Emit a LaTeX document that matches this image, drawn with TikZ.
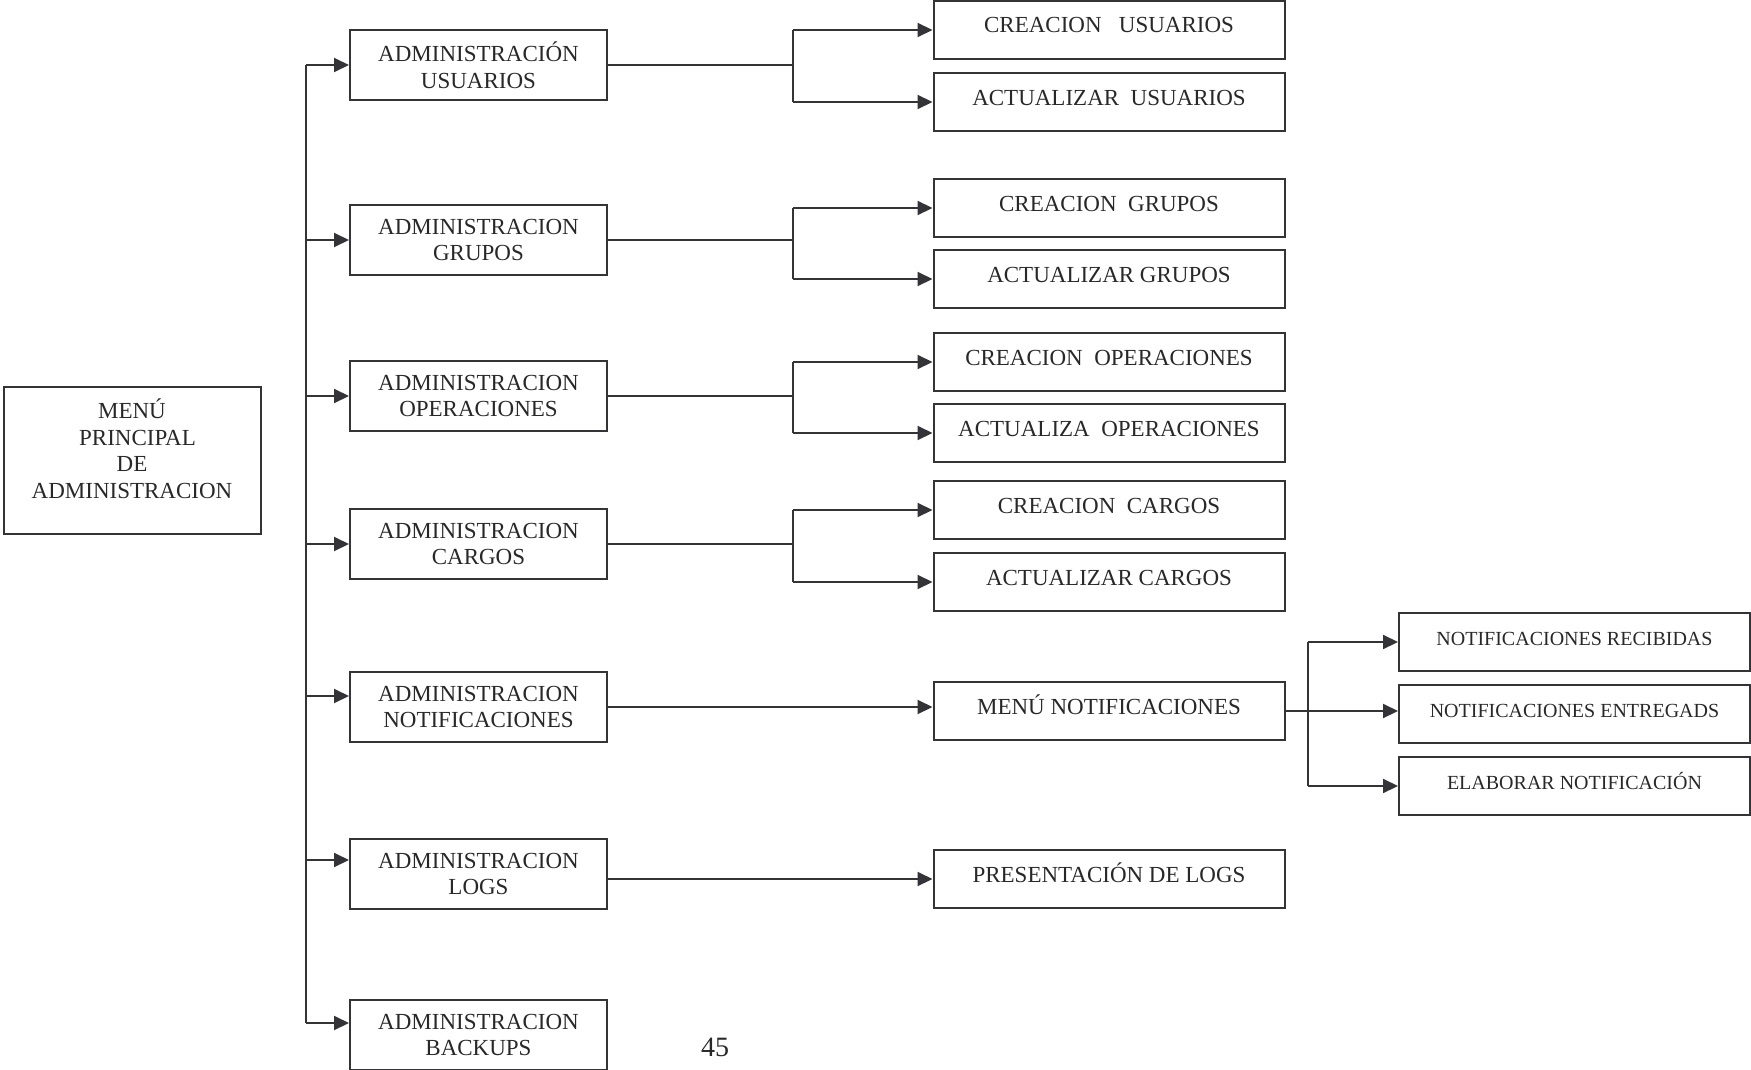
\documentclass[tikz,border=0pt]{standalone}
\usepackage{fontspec}
\setmainfont{Liberation Serif}
\definecolor{mpLinea}{RGB}{52, 52, 56}
\definecolor{mpTexto}{RGB}{40, 40, 40}
\usetikzlibrary{
  arrows.meta,
  positioning,
  calc
}
\tikzset{
  % Cajas generales
  basebox/.style={
    rectangle,
    draw=mpLinea,
    line width=1pt,
    text=mpTexto,
    align=center,
    inner sep=2pt
  },
  menubox/.style={basebox, minimum width=128.5pt, minimum height=73.5pt,
    font=\fontsize{11.5}{13.4}\selectfont},
  adminbox/.style={basebox, minimum width=128.5pt, minimum height=35pt,
    font=\fontsize{11.5}{13.4}\selectfont},
  subbox/.style={basebox, minimum width=175.5pt, minimum height=29pt,
    font=\fontsize{11.5}{13.4}\selectfont, text height=8pt, text depth=5pt},
  notibox/.style={subbox, font=\fontsize{10}{12}\selectfont},
  % Flechas y lineas
  arrow/.style={-{Triangle[length=7.5pt, width=7pt]}, line width=1pt, color=mpLinea},
  linea/.style={line width=1pt, color=mpLinea},
}

\begin{document}
\begin{tikzpicture}[x=0.5pt, y=-0.5pt]
  \useasboundingbox (0,0) rectangle (1751,1070);

  % Menu principal
  \node[menubox] (menu) at (132,460)
    {MENÚ\\\hspace*{5.5pt}PRINCIPAL\\DE\\ADMINISTRACION\\[-2pt]\mbox{}};

  % Modulos de administracion
  \node[adminbox] (usu)  at (478.5,65)   {ADMINISTRACIÓN\\USUARIOS};
  \node[adminbox] (gru)  at (478.5,240)  {ADMINISTRACION\\GRUPOS};
  \node[adminbox] (ope)  at (478.5,396)  {ADMINISTRACION\\OPERACIONES};
  \node[adminbox] (car)  at (478.5,544)  {ADMINISTRACION\\CARGOS};
  \node[adminbox] (noti) at (478.5,707)  {ADMINISTRACION\\NOTIFICACIONES};
  \node[adminbox] (log)  at (478.5,874)  {ADMINISTRACION\\LOGS};
  \node[adminbox] (bak)  at (478.5,1035) {ADMINISTRACION\\BACKUPS};

  % Opciones
  \node[subbox] (cusu) at (1109,30)  {CREACION~~~USUARIOS};
  \node[subbox] (ausu) at (1109,102) {ACTUALIZAR~~USUARIOS};
  \node[subbox] (cgru) at (1109,208) {CREACION~~GRUPOS};
  \node[subbox] (agru) at (1109,279) {ACTUALIZAR GRUPOS};
  \node[subbox] (cope) at (1109,362) {CREACION~~OPERACIONES};
  \node[subbox] (aope) at (1109,433) {ACTUALIZA~~OPERACIONES};
  \node[subbox] (ccar) at (1109,510) {CREACION~~CARGOS};
  \node[subbox] (acar) at (1109,582) {ACTUALIZAR CARGOS};
  \node[subbox] (mnot) at (1109,711) {MENÚ NOTIFICACIONES};
  \node[subbox] (plog) at (1109,879) {PRESENTACIÓN DE LOGS};

  % Notificaciones
  \node[notibox] (nrec) at (1574.5,642) {NOTIFICACIONES RECIBIDAS};
  \node[notibox] (nent) at (1574.5,714) {NOTIFICACIONES ENTREGADS};
  \node[notibox] (nela) at (1574.5,786) {ELABORAR NOTIFICACIÓN};

  \node[font=\fontsize{14}{16}\selectfont, text=mpTexto] (pag) at (715,1047) {45};

  % Tronco principal
  \coordinate (tronco) at (306,0);
  \coordinate (notin) at ([yshift=5.5pt]noti.west);
  \coordinate (login) at ([yshift=7pt]log.west);
  \coordinate (bakin) at ([yshift=6pt]bak.west);
  \draw[linea] (usu.west -| tronco) -- (bakin -| tronco);
  \draw[arrow] (usu.west -| tronco) -- (usu.west);
  \draw[arrow] (gru.west -| tronco) -- (gru.west);
  \draw[arrow] (ope.west -| tronco) -- (ope.west);
  \draw[arrow] (car.west -| tronco) -- (car.west);
  \draw[arrow] (notin -| tronco) -- (notin);
  \draw[arrow] (login -| tronco) -- (login);
  \draw[arrow] (bakin -| tronco) -- (bakin);

  % Ramas de opciones
  \coordinate (rama) at (793,0);
  \draw[linea] (usu.east) -- (usu.east -| rama);
  \draw[linea] (cusu.west -| rama) -- (ausu.west -| rama);
  \draw[arrow] (cusu.west -| rama) -- (cusu.west);
  \draw[arrow] (ausu.west -| rama) -- (ausu.west);

  \draw[linea] (gru.east) -- (gru.east -| rama);
  \draw[linea] (cgru.west -| rama) -- (agru.west -| rama);
  \draw[arrow] (cgru.west -| rama) -- (cgru.west);
  \draw[arrow] (agru.west -| rama) -- (agru.west);

  \draw[linea] (ope.east) -- (ope.east -| rama);
  \draw[linea] (cope.west -| rama) -- (aope.west -| rama);
  \draw[arrow] (cope.west -| rama) -- (cope.west);
  \draw[arrow] (aope.west -| rama) -- (aope.west);

  \draw[linea] (car.east) -- (car.east -| rama);
  \draw[linea] (ccar.west -| rama) -- (acar.west -| rama);
  \draw[arrow] (ccar.west -| rama) -- (ccar.west);
  \draw[arrow] (acar.west -| rama) -- (acar.west);

  \draw[arrow] (noti.east) -- (noti.east -| mnot.west);
  \draw[arrow] (plog.west -| log.east) -- (plog.west);

  % Rama de notificaciones
  \coordinate (ramanot) at (1308,0);
  \draw[arrow] (mnot.east) -- (mnot.east -| nent.west);
  \draw[linea] (nrec.west -| ramanot) -- (nela.west -| ramanot);
  \draw[arrow] (nrec.west -| ramanot) -- (nrec.west);
  \draw[arrow] (nela.west -| ramanot) -- (nela.west);
\end{tikzpicture}
\end{document}
